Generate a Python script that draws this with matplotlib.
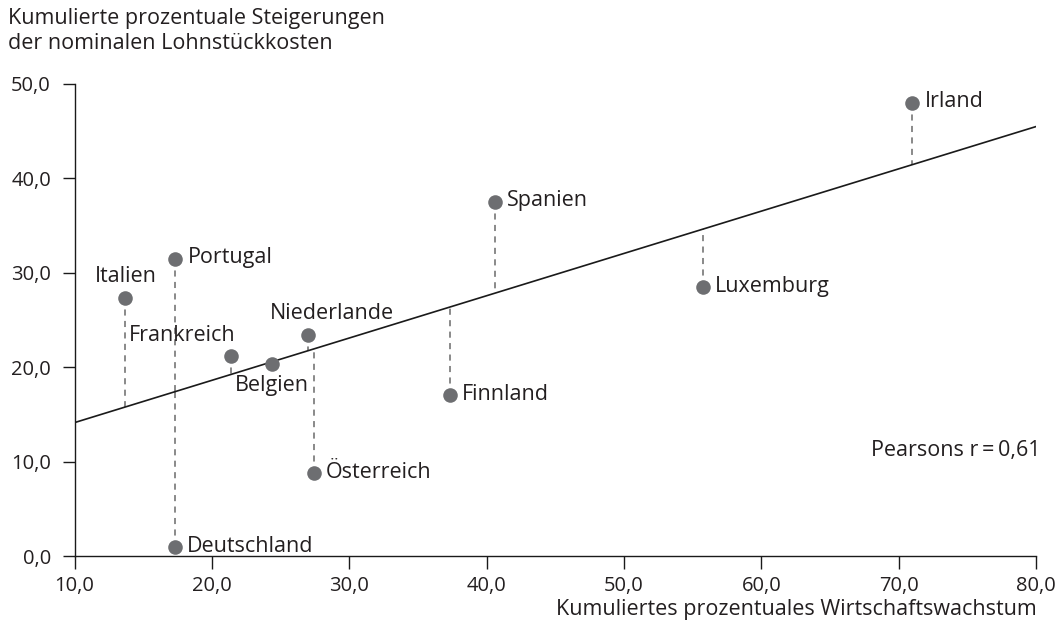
import numpy as np
import matplotlib.pyplot as plt
from matplotlib.ticker import FuncFormatter

plt.rcParams['font.family'] = ['Open Sans', 'DejaVu Sans']

# Daten: kumuliertes Wirtschaftswachstum (x) und Lohnstückkosten (y)
laender = ['Italien', 'Portugal', 'Frankreich', 'Belgien', 'Niederlande',
           'Österreich', 'Deutschland', 'Spanien', 'Luxemburg', 'Finnland', 'Irland']
wachstum = [13.7, 17.3, 21.4, 24.35, 27.0, 27.4, 17.3, 40.6, 55.75, 37.35, 71.0]
lohnkosten = [27.3, 31.4, 21.2, 20.3, 23.4, 8.8, 1.0, 37.5, 28.5, 17.1, 47.9]

# Beschriftungsposition je Land (Versatz in Pixeln, Ausrichtung)
label_pos = {
    'Italien': ((0, 22), 'center', 'center'),
    'Portugal': ((13, 2), 'left', 'center'),
    'Frankreich': ((4, 10), 'right', 'bottom'),
    'Belgien': ((0, -21), 'center', 'center'),
    'Niederlande': ((24, 22), 'center', 'center'),
    'Österreich': ((12, 1), 'left', 'center'),
    'Deutschland': ((12, 1), 'left', 'center'),
    'Spanien': ((12, 1), 'left', 'center'),
    'Luxemburg': ((12, 0), 'left', 'center'),
    'Finnland': ((12, 0), 'left', 'center'),
    'Irland': ((12, 2), 'left', 'center'),
}

textfarbe = '#231f20'
punktfarbe = '#6d6e71'
fs = 15.5

x = np.array(wachstum)
y = np.array(lohnkosten)
steigung, achse = np.polyfit(x, y, 1)

fig = plt.figure(figsize=(10.64, 6.4), dpi=100)
ax = fig.add_axes([0.0701, 0.1305, 0.9036, 0.739])

# Regressionsgerade
xs = np.array([10, 80])
ax.plot(xs, steigung * xs + achse, color='#1a1a1a', lw=1.2, zorder=2)

# Residuen als gestrichelte Linien
for xi, yi in zip(x, y):
    ax.plot([xi, xi], [yi, steigung * xi + achse], color='#6a6a6a', lw=1.1,
            dashes=(4, 3.5), zorder=1)

ax.scatter(x, y, s=110, color=punktfarbe, zorder=3, linewidths=0)

for name, xi, yi in zip(laender, x, y):
    off, ha, va = label_pos[name]
    ax.annotate(name, (xi, yi), xytext=off, textcoords='offset pixels',
                ha=ha, va=va, fontsize=fs, color=textfarbe)

ax.text(80.3, 11.2, 'Pearsons r\u2009=\u20090,61', ha='right', va='center',
        fontsize=fs, color=textfarbe)

ax.set_xlim(10, 80)
ax.set_ylim(0, 50)
ax.set_xticks(np.arange(10, 81, 10))
ax.set_yticks(np.arange(0, 51, 10))
fmt = FuncFormatter(lambda v, p: f'{v:.1f}'.replace('.', ','))
ax.xaxis.set_major_formatter(fmt)
ax.yaxis.set_major_formatter(fmt)
ax.tick_params(length=9, width=1, labelsize=14.5, colors='#1a1a1a',
               labelcolor=textfarbe)
ax.tick_params(axis='x', pad=5)
ax.tick_params(axis='y', pad=8)
for s in ['top', 'right']:
    ax.spines[s].set_visible(False)
for s in ['left', 'bottom']:
    ax.spines[s].set_linewidth(1)
    ax.spines[s].set_color('#1a1a1a')

fig.text(8 / 1064, 1 - 31 / 640, 'Kumulierte prozentuale Steigerungen\nder nominalen Lohnstückkosten',
         ha='left', va='center', fontsize=fs, color=textfarbe, linespacing=1.3)
fig.text(1037 / 1064, 1 - 610 / 640, 'Kumuliertes prozentuales Wirtschaftswachstum',
         ha='right', va='center', fontsize=fs, color=textfarbe)

fig.savefig('out.png', dpi=100)
